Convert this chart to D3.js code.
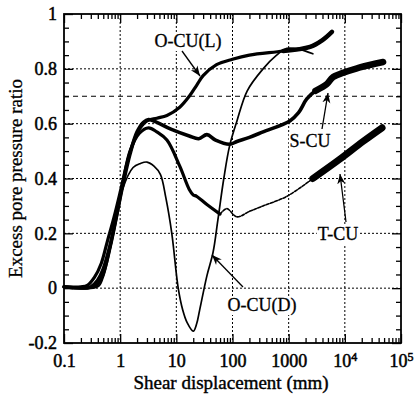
<!DOCTYPE html>
<html>
<head>
  <meta charset="utf-8">
  <title>Excess pore pressure ratio</title>
  <script src="https://cdn.jsdelivr.net/npm/d3@7"></script>
  <style>
    body { margin: 0; background: white; }
    text { font-family: "Liberation Serif", "Times New Roman", serif; fill: black; }
    .tick text { font-size: 17px; }
    .domain { display: none; }
  </style>
</head>
<body>
<svg id="chart" width="417" height="394"></svg>
<script>
  // 1. Data (x = shear displacement mm, y = excess pore pressure ratio)
  var ocuL = [[0.1,0.005],[0.2,0.005],[0.26,0.01],[0.35,0.04],[0.46,0.09],[0.59,0.17],[0.78,0.26],[1.0,0.35],[1.3,0.45],[1.7,0.53],[2.2,0.58],[3,0.61],[4.5,0.62],[6.8,0.63],[11.5,0.66],[17,0.7],[23,0.74],[30,0.775],[52,0.815],[100,0.835],[200,0.85],[800,0.865],[2400,0.88],[4000,0.905],[5900,0.935]];
  var sCU = [[0.1,0.005],[0.3,0.005],[0.4,0.03],[0.5,0.07],[0.65,0.15],[0.85,0.26],[1.1,0.37],[1.5,0.49],[2,0.57],[2.6,0.605],[3.2,0.615],[4.5,0.605],[8,0.58],[17,0.555],[25,0.545],[35,0.56],[50,0.54],[89,0.525],[120,0.535],[200,0.55],[350,0.57],[1050,0.61],[1500,0.64],[2100,0.69],[3000,0.72],[4800,0.745],[6200,0.77],[18600,0.805],[48000,0.825]];
  var tCU = [[0.1,0.005],[0.35,0.005],[0.45,0.03],[0.55,0.08],[0.7,0.17],[0.9,0.28],[1.13,0.39],[1.5,0.5],[2.2,0.565],[3.2,0.585],[4.5,0.57],[6.8,0.54],[11.5,0.445],[17,0.36],[20,0.34],[23,0.335],[35,0.305],[60,0.27]];
  var tCUlate = [[60,0.27],[79,0.29],[120,0.26],[200,0.28],[350,0.3],[930,0.335],[2700,0.4]];
  var tCUend = [[2700,0.4],[8100,0.47],[21000,0.535],[46000,0.585]];
  var ocuD = [[0.1,0.005],[0.4,0.005],[0.5,0.04],[0.6,0.1],[0.72,0.18],[0.87,0.26],[1.1,0.36],[1.7,0.44],[2.3,0.455],[3,0.46],[4,0.445],[5.2,0.415],[6.5,0.33],[8.3,0.2],[10.8,0.0],[13,-0.08],[15.5,-0.125],[20,-0.157],[23,-0.13],[26,-0.08],[35,0.045],[45,0.13],[55,0.25],[70,0.4],[89,0.52],[120,0.61],[183,0.72],[350,0.8],[610,0.85],[930,0.875],[1600,0.87],[2700,0.855]];

  var xMajors = [0.1, 1, 10, 100, 1000, 1e4, 1e5];
  var xLabels = ["0.1", "1", "10", "100", "1000", "10^4", "10^5"];
  var yMajors = [-0.2, 0, 0.2, 0.4, 0.6, 0.8, 1];
  var yLabels = ["-0.2", "0", "0.2", "0.4", "0.6", "0.8", "1"];

  // 2. Scales
  var plotL = 64, plotR = 401, plotT = 14, plotB = 343;
  var x = d3.scaleLog().domain([0.1, 1e5]).range([plotL, plotR]);
  var y = d3.scaleLinear().domain([-0.2, 1]).range([plotB, plotT]);

  var svg = d3.select("#chart");

  // 3. Grid
  var grid = svg.append("g").attr("stroke", "black").attr("stroke-width", 1);
  grid.selectAll(".gx").data(xMajors.slice(1, -1)).enter().append("line")
    .attr("x1", x).attr("x2", x).attr("y1", plotT).attr("y2", plotB)
    .attr("stroke-dasharray", "2,2");
  grid.selectAll(".gy").data(yMajors.slice(1, -1)).enter().append("line")
    .attr("y1", y).attr("y2", y).attr("x1", plotL).attr("x2", plotR)
    .attr("stroke-dasharray", "2,2");
  grid.append("line").attr("y1", y(0.7)).attr("y2", y(0.7)).attr("x1", plotL).attr("x2", plotR)
    .attr("stroke-dasharray", "5,4");

  // 4. Curves
  var line = d3.line().x(function(d){ return x(d[0]); }).y(function(d){ return y(d[1]); })
    .curve(d3.curveCatmullRom.alpha(0.5));
  function draw(data, w, dash) {
    svg.append("path").datum(data).attr("d", line)
      .attr("fill", "none").attr("stroke", "black").attr("stroke-width", w)
      .attr("stroke-linejoin", "round").attr("stroke-linecap", "round")
      .attr("stroke-dasharray", dash || null);
  }
  draw(ocuD, 1.7);
  draw(tCU, 3.2);
  draw(tCUlate, 1.6, "3,1.5");
  draw(tCUend, 7);
  draw(sCU, 3.6);
  draw(sCU.slice(-5), 6.5);
  draw(ocuL, 3.2);
  draw(ocuL.slice(-4), 4.5);

  // 5. Frame and axes (ticks inward)
  svg.append("rect").attr("x", plotL).attr("y", plotT).attr("width", plotR - plotL).attr("height", plotB - plotT)
    .attr("fill", "none").attr("stroke", "black").attr("stroke-width", 1.8);

  var xMinor = x.ticks().filter(function(v){ return xMajors.indexOf(v) < 0; });
  var yMinor = d3.range(-0.2, 1.001, 0.05).filter(function(v){ return Math.abs(Math.round(v * 5) - v * 5) > 1e-6; });

  var fmtX = function(d){ return xLabels[xMajors.indexOf(d)]; };
  var fmtY = function(d){ return yLabels[yMajors.indexOf(d)]; };

  svg.append("g").attr("transform", "translate(0," + plotB + ")")
    .call(d3.axisBottom(x).tickValues(xMajors).tickSize(-9).tickPadding(11).tickFormat(fmtX));
  svg.append("g").attr("transform", "translate(0," + plotB + ")")
    .call(d3.axisBottom(x).tickValues(xMinor).tickSize(-5).tickFormat(""));
  svg.append("g").attr("transform", "translate(0," + plotT + ")")
    .call(d3.axisTop(x).tickValues(xMajors).tickSize(-9).tickFormat(""));
  svg.append("g").attr("transform", "translate(0," + plotT + ")")
    .call(d3.axisTop(x).tickValues(xMinor).tickSize(-5).tickFormat(""));
  svg.append("g").attr("transform", "translate(" + plotL + ",0)")
    .call(d3.axisLeft(y).tickValues(yMajors).tickSize(-9).tickPadding(7).tickFormat(fmtY));
  svg.append("g").attr("transform", "translate(" + plotL + ",0)")
    .call(d3.axisLeft(y).tickValues(yMinor).tickSize(-5).tickFormat(""));
  svg.append("g").attr("transform", "translate(" + plotR + ",0)")
    .call(d3.axisRight(y).tickValues(yMajors).tickSize(-9).tickFormat(""));
  svg.append("g").attr("transform", "translate(" + plotR + ",0)")
    .call(d3.axisRight(y).tickValues(yMinor).tickSize(-5).tickFormat(""));

  svg.selectAll(".tick line").attr("stroke-width", 1.3);
  svg.selectAll(".tick text").style("font-size", "18px").attr("fill", "black")
    .attr("stroke", "black").attr("stroke-width", 0.5);

  // superscript labels
  svg.selectAll(".tick text").each(function(){
    var t = d3.select(this), s = t.text();
    if (s.indexOf("^") > 0) {
      var p = s.split("^");
      t.text(null);
      t.append("tspan").text(p[0]);
      t.append("tspan").attr("dy", "-0.45em").style("font-size", "12px").text(p[1]);
    }
  });

  // 6. Axis titles
  svg.append("text").attr("x", 231).attr("y", 389).attr("text-anchor", "middle")
    .style("font-size", "19px").attr("stroke", "black").attr("stroke-width", 0.4)
    .text("Shear displacement (mm)");
  svg.append("text").attr("transform", "translate(22," + ((plotT + plotB) / 2) + ") rotate(-90)")
    .attr("text-anchor", "middle").style("font-size", "19px").attr("stroke", "black").attr("stroke-width", 0.3)
    .text("Excess pore pressure ratio");

  // 7. Annotations with arrows
  svg.append("defs").append("marker").attr("id", "head").attr("viewBox", "0 0 10 10")
    .attr("refX", 10).attr("refY", 5).attr("markerWidth", 10).attr("markerHeight", 10)
    .attr("orient", "auto").attr("markerUnits", "userSpaceOnUse")
    .append("path").attr("d", "M0,1 L10,5 L0,9 L3,5 Z").attr("fill", "black");

  var notes = [
    {t: "O-CU(L)", tx: 188, ty: 47, x1: 182, y1: 51, x2: 200, y2: 76},
    {t: "S-CU", tx: 310, ty: 147, x1: 322, y1: 129, x2: 328, y2: 93},
    {t: "T-CU", tx: 338, ty: 240, x1: 346, y1: 222, x2: 340, y2: 174},
    {t: "O-CU(D)", tx: 262, ty: 311, x1: 243, y1: 287, x2: 212, y2: 255}
  ];
  notes.forEach(function(n){
    svg.append("rect").attr("x", n.tx - n.t.length * 5.3).attr("y", n.ty - 15)
      .attr("width", n.t.length * 10.6).attr("height", 19).attr("fill", "white");
    svg.append("text").attr("x", n.tx).attr("y", n.ty).attr("text-anchor", "middle")
      .style("font-size", "18px").attr("stroke", "black").attr("stroke-width", 0.3).text(n.t);
    svg.append("line").attr("x1", n.x1).attr("y1", n.y1).attr("x2", n.x2).attr("y2", n.y2)
      .attr("stroke", "black").attr("stroke-width", 1.3).attr("marker-end", "url(#head)");
  });
</script>
</body>
</html>
